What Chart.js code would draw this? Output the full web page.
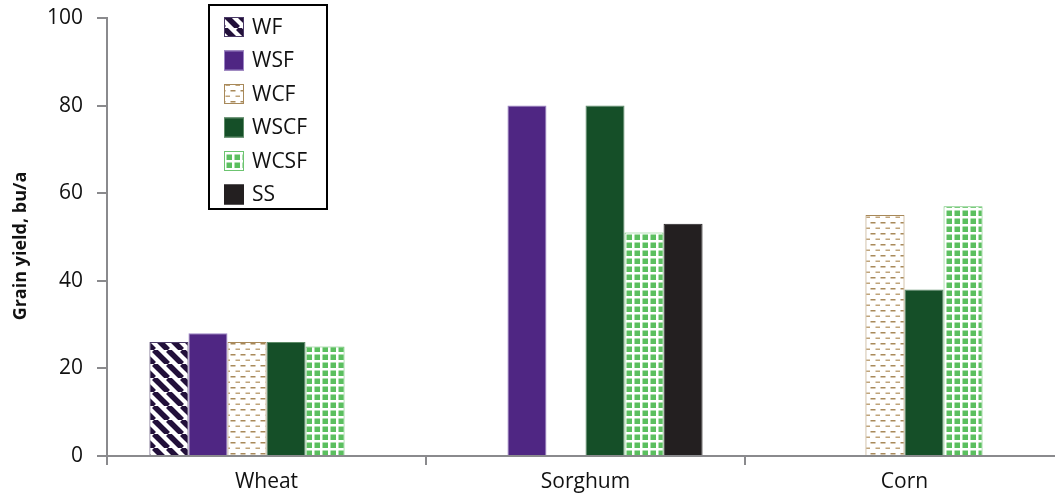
<!DOCTYPE html>
<html>
<head>
<meta charset="utf-8">
<script src="https://cdn.jsdelivr.net/npm/chart.js@4/dist/chart.umd.min.js"></script>
<style>
html,body{margin:0;padding:0;background:#fff;overflow:hidden;width:1055px;height:501px;}
#wrap{position:absolute;left:0;top:0;width:1064px;height:501px;}
</style>
</head>
<body>
<div id="wrap"><canvas id="c" width="1064" height="501"></canvas></div>
<script>
const categories = ['Wheat', 'Sorghum', 'Corn'];
const seriesNames = ['WF', 'WSF', 'WCF', 'WSCF', 'WCSF', 'SS'];
const WF   = [26, null, null];
const WSF  = [28, 80, null];
const WCF  = [26, null, 55];
const WSCF = [26, 80, 38];
const WCSF = [25, 51, 57];
const SS   = [null, 53, null];
const yTicks = [0, 20, 40, 60, 80, 100];
const yTitle = 'Grain yield, bu/a';

function tile(w, h, draw) {
  const c = document.createElement('canvas');
  c.width = w; c.height = h;
  const g = c.getContext('2d');
  draw(g, w, h);
  return document.getElementById('c').getContext('2d').createPattern(c, 'repeat');
}
const stripePat = tile(14, 14, (g, w, h) => {
  g.fillStyle = '#ffffff'; g.fillRect(0, 0, w, h);
  g.strokeStyle = '#22103a'; g.lineWidth = 5.5;
  for (const k of [-w, 0, w]) { g.beginPath(); g.moveTo(k, 0); g.lineTo(k + w, h); g.stroke(); }
});
const dashPat = tile(10, 11, (g, w, h) => {
  g.fillStyle = '#ffffff'; g.fillRect(0, 0, w, h);
  g.fillStyle = '#a8895a';
  g.fillRect(0.5, 2, 5, 1.5);
  g.fillStyle = '#c0a47a';
  g.fillRect(5.5, 7.5, 5, 1.5);
});
const gridPat = tile(8, 8, (g, w, h) => {
  g.fillStyle = '#5bbf5f'; g.fillRect(0, 0, w, h);
  g.fillStyle = '#ffffff';
  g.fillRect(0, 0, 2.5, h);
  g.fillRect(0, 0, w, 2.5);
});

const seriesData = [WF, WSF, WCF, WSCF, WCSF, SS];
const fills = [stripePat, '#4f2683', dashPat, '#154f28', gridPat, '#231f20'];
const borders = ['#4a3a66', '#9b84c4', '#a8895a', '#5e8c68', '#6cc470', '#231f20'];

const axisGray = '#8a8a8d';
const FONT = '"Open Sans", "Noto Sans", sans-serif';

const legendPlugin = {
  id: 'boxLegend',
  afterDraw(chart) {
    const ctx = chart.ctx;
    ctx.save();
    ctx.fillStyle = '#ffffff';
    ctx.fillRect(209, 5, 118, 204);
    ctx.strokeStyle = '#000000';
    ctx.lineWidth = 2;
    ctx.strokeRect(209, 5, 118, 204);
    chart.data.datasets.forEach((ds, i) => {
      const cy = 27 + i * 33.5;
      ctx.fillStyle = ds.backgroundColor;
      ctx.fillRect(224, cy - 10, 20, 20);
      ctx.strokeStyle = ds.borderColor;
      ctx.lineWidth = 1;
      ctx.strokeRect(224.5, cy - 9.5, 19, 19);
      ctx.fillStyle = '#111111';
      ctx.font = '21px ' + FONT;
      ctx.textBaseline = 'middle';
      ctx.textAlign = 'left';
      ctx.fillText(ds.label, 252, cy + 1);
    });
    // y axis title
    ctx.translate(21, 246);
    ctx.rotate(-Math.PI / 2);
    ctx.font = 'bold 18px ' + FONT;
    ctx.fillStyle = '#111111';
    ctx.textAlign = 'center';
    ctx.textBaseline = 'middle';
    ctx.fillText(yTitle, 0, 0);
    ctx.restore();
  }
};

new Chart(document.getElementById('c'), {
  type: 'bar',
  data: {
    labels: categories,
    datasets: seriesNames.map((n, i) => ({
      label: n,
      data: seriesData[i],
      backgroundColor: fills[i],
      borderColor: borders[i],
      borderWidth: 1,
      categoryPercentage: 0.734,
      barPercentage: 1.0
    }))
  },
  options: {
    responsive: false,
    animation: false,
    devicePixelRatio: 1,
    layout: { padding: { left: 0, right: 0, top: 18, bottom: 0 } },
    plugins: { legend: { display: false }, tooltip: { enabled: false } },
    scales: {
      x: {
        grid: { offset: true, drawOnChartArea: false, drawTicks: true, tickLength: 9, color: axisGray, lineWidth: 2 },
        border: { display: true, color: axisGray, width: 2 },
        ticks: { color: '#111', font: { family: FONT, size: 21 }, padding: 4 },
        afterFit(s) { s.height = 45; s.paddingLeft = 0; s.paddingRight = 0; }
      },
      y: {
        min: 0, max: 100,
        afterBuildTicks(s) { s.ticks = yTicks.map(v => ({ value: v })); },
        grid: { drawOnChartArea: false, drawTicks: true, tickLength: 10, color: axisGray, lineWidth: 2 },
        border: { display: true, color: axisGray, width: 2 },
        ticks: { color: '#111', font: { family: FONT, size: 21 }, padding: 14 },
        title: { display: false },
        afterFit(s) { s.width = 107; s.paddingTop = 0; s.paddingBottom = 0; }
      }
    }
  },
  plugins: [legendPlugin]
});
</script>
</body>
</html>
